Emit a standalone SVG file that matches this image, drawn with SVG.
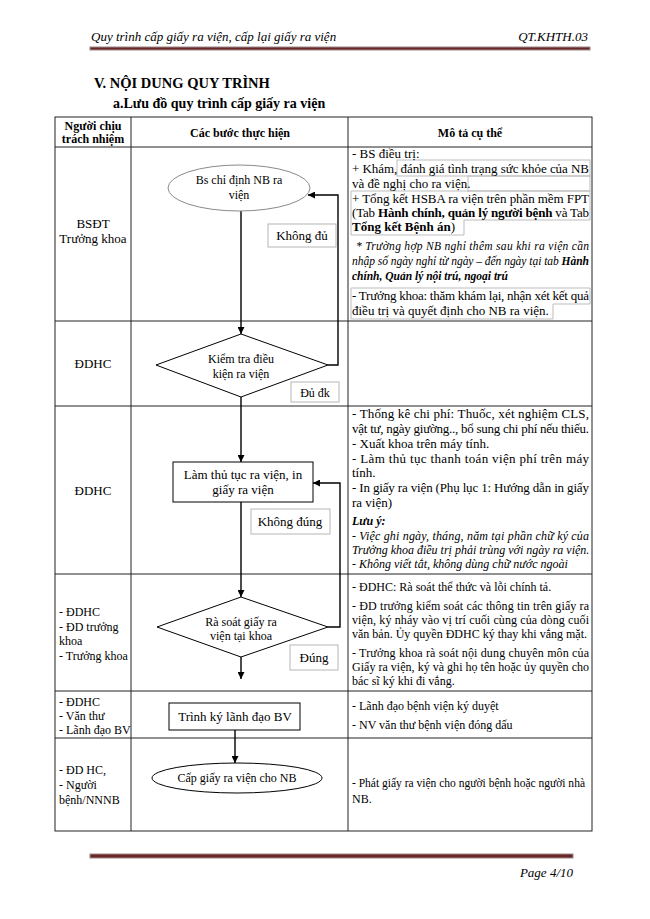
<svg xmlns="http://www.w3.org/2000/svg" width="650" height="919" viewBox="0 0 650 919">
<defs>
<style>
text{font-family:"Liberation Serif","Times New Roman",serif;fill:#000}
.t13{font-size:13px}
.t12{font-size:12px}
.b{font-weight:bold}
.i{font-style:italic}
.c{text-anchor:middle}
.grid{stroke:#222;stroke-width:1;fill:none}
.shape{fill:#fff;stroke:#000;stroke-width:1}
.lbl{fill:#fff;stroke:#b5b5b5;stroke-width:1}
.frame{fill:none;stroke:#bdbdbd;stroke-width:1}
.conn{fill:none;stroke:#000;stroke-width:1.4}
.bar{fill:#6b2525;stroke:#9a8a8a;stroke-width:1}
</style>
<marker id="ah" viewBox="0 0 10 10" refX="10" refY="5" markerWidth="7" markerHeight="7" orient="auto" markerUnits="userSpaceOnUse">
<path d="M0,0 L10,5 L0,10 Z" fill="#000"/>
</marker>
</defs>
<rect width="650" height="919" fill="#fff"/>

<!-- page header -->
<g id="page-header">
<text x="91" y="41" class="t13 i">Quy trình cấp giấy ra viện, cấp lại giấy ra viện</text>
<text x="588" y="41" class="t13 i" text-anchor="end">QT.KHTH.03</text>
<rect x="90" y="47" width="500" height="3" class="bar"/>
</g>

<g id="titles">
<text x="94" y="88" class="b" font-size="14.5">V. NỘI DUNG QUY TRÌNH</text>
<text x="113" y="108" class="b" font-size="14">a.Lưu đồ quy trình cấp giấy ra viện</text>
</g>

<!-- table grid -->
<g id="table" class="grid">
<rect x="55" y="117" width="537" height="714"/>
<line x1="131" y1="117" x2="131" y2="831"/>
<line x1="348" y1="117" x2="348" y2="831"/>
<line x1="55" y1="147" x2="592" y2="147"/>
<line x1="55" y1="321" x2="592" y2="321"/>
<line x1="55" y1="406" x2="592" y2="406"/>
<line x1="55" y1="574" x2="592" y2="574"/>
<line x1="55" y1="691" x2="592" y2="691"/>
<line x1="55" y1="738" x2="592" y2="738"/>
</g>

<g id="table-head">
<text x="93" y="130" class="t12 b c">Người chịu</text>
<text x="93" y="143" class="t12 b c">trách nhiệm</text>
<text x="240" y="137" class="t12 b c">Các bước thực hiện</text>
<text x="470" y="137" class="t12 b c">Mô tả cụ thể</text>
</g>

<!-- responsible column -->
<g id="responsible">
<text x="93" y="228" class="t13 c">BSĐT</text>
<text x="93" y="243" class="t13 c">Trưởng khoa</text>
<text x="93" y="368" class="t13 c">ĐDHC</text>
<text x="93" y="495" class="t13 c">ĐDHC</text>
<text x="59" y="616" class="t12">- ĐDHC</text>
<text x="59" y="631" class="t12">- ĐD trưởng</text>
<text x="59" y="645" class="t12">khoa</text>
<text x="59" y="660" class="t12">- Trưởng khoa</text>
<text x="59" y="706" class="t12">- ĐDHC</text>
<text x="59" y="720" class="t12">- Văn thư</text>
<text x="59" y="734" class="t12">- Lãnh đạo BV</text>
<text x="59" y="774" class="t12">- ĐD HC,</text>
<text x="59" y="789" class="t12">- Người</text>
<text x="59" y="804" class="t12">bệnh/NNNB</text>
</g>

<!-- connectors -->
<g id="connectors">
<path class="conn" d="M241,211 V334" marker-end="url(#ah)"/>
<path class="conn" d="M328,365 H338 V195 H308" marker-end="url(#ah)"/>
<path class="conn" d="M241,397 V462" marker-end="url(#ah)"/>
<path class="conn" d="M328,627 H340 V483 H313" marker-end="url(#ah)"/>
<path class="conn" d="M241,502 V597" marker-end="url(#ah)"/>
<path class="conn" d="M241,657 V679" marker-end="url(#ah)"/>
<path class="conn" d="M235,730 V763" marker-end="url(#ah)"/>
</g>

<!-- nodes -->
<g id="n-start">
<ellipse cx="239" cy="188" rx="71" ry="23" fill="#fff" stroke="#8a8a8a" stroke-width="1"/>
<text x="239" y="184" class="t12 c">Bs chỉ định NB  ra</text>
<text x="239" y="199" class="t12 c">viện</text>
</g>

<g id="n-check">
<polygon class="shape" points="241,334 328,365 241,397 156,365"/>
<text x="241" y="363" class="t12 c">Kiểm tra điều</text>
<text x="241" y="378" class="t12 c">kiện ra viện</text>
</g>

<g id="n-procedure">
<rect class="shape" x="173" y="462" width="140" height="40"/>
<text x="243" y="479" class="t13 c">Làm thủ tục ra viện, in</text>
<text x="243" y="494" class="t13 c">giấy ra viện</text>
</g>

<g id="n-review">
<polygon class="shape" points="241,597 328,627 241,657 157,627"/>
<text x="241" y="626" class="t12 c">Rà soát giấy ra</text>
<text x="241" y="640" class="t12 c">viện tại khoa</text>
</g>

<g id="n-sign">
<rect class="shape" x="169" y="703" width="131" height="27"/>
<text x="235" y="721" class="t13 c">Trình ký lãnh đạo BV</text>
</g>

<g id="n-issue">
<ellipse class="shape" cx="237" cy="778" rx="85" ry="15"/>
<text x="237" y="782" class="t12 c">Cấp giấy ra viện cho NB</text>
</g>

<!-- edge labels -->
<g id="lbl-khongdu">
<rect class="lbl" x="268" y="224" width="68" height="23"/>
<text x="302" y="240" class="t13 c">Không đủ</text>
</g>
<g id="lbl-dudk">
<rect class="lbl" x="291" y="382" width="48" height="20"/>
<text x="315" y="397" class="t12 c">Đủ đk</text>
</g>
<g id="lbl-khongdung">
<rect class="lbl" x="251" y="509" width="79" height="25"/>
<text x="290" y="526" class="t13 c">Không đúng</text>
</g>
<g id="lbl-dung">
<rect class="lbl" x="290" y="645" width="48" height="25"/>
<text x="314" y="662" class="t13 c">Đúng</text>
</g>

<!-- description column -->
<g id="desc-1">
<rect class="frame" x="397" y="160" width="193" height="16"/>
<rect class="frame" x="468" y="176" width="122" height="15"/>
<path class="frame" d="M351,191 H590 V220 H464 V235 H351 Z"/>
<path class="frame" d="M351,288 H590 V304 H553 V319 H351 Z"/>
<text x="352" y="158" class="t13">- BS điều trị:</text>
<text x="352" y="173" class="t13" textLength="237" lengthAdjust="spacing">+ Khám, đánh giá tình trạng sức khỏe của NB</text>
<text x="352" y="188" class="t13">và đề nghị cho ra viện.</text>
<text x="352" y="203" class="t13" textLength="237" lengthAdjust="spacing">+ Tổng kết HSBA ra viện trên phần mềm FPT</text>
<text x="352" y="217" class="t13" textLength="237" lengthAdjust="spacing">(Tab <tspan class="b">Hành chính, quản lý người bệnh</tspan> và Tab</text>
<text x="352" y="231" class="t13"><tspan class="b">Tổng kết Bệnh án</tspan>)</text>
<text x="356" y="250" class="i" font-size="11.5" textLength="233" lengthAdjust="spacing">* Trường hợp NB nghỉ thêm sau khi ra viện cần</text>
<text x="352" y="265" class="i" font-size="11.5" textLength="237" lengthAdjust="spacing">nhập số ngày nghỉ từ ngày – đến ngày tại tab <tspan class="b">Hành</tspan></text>
<text x="352" y="280" class="i b" font-size="11.5">chính, Quản lý nội trú, ngoại trú</text>
<text x="352" y="300" class="t13" textLength="237" lengthAdjust="spacing">- Trưởng khoa: thăm khám lại, nhận xét kết quả</text>
<text x="352" y="315" class="t13">điều trị và quyết định cho NB ra viện.</text>
</g>

<g id="desc-3">
<text x="352" y="418" class="t13" textLength="237" lengthAdjust="spacing">- Thống kê chi phí: Thuốc, xét nghiệm CLS,</text>
<text x="352" y="433" class="t13" textLength="237" lengthAdjust="spacing">vật tư, ngày giường.., bổ sung chi phí nếu thiếu.</text>
<text x="352" y="448" class="t13">- Xuất khoa trên máy tính.</text>
<text x="352" y="463" class="t13" textLength="237" lengthAdjust="spacing">- Làm thủ tục thanh toán viện phí trên máy</text>
<text x="352" y="477" class="t13">tính.</text>
<text x="352" y="492" class="t13" textLength="237" lengthAdjust="spacing">- In giấy ra viện (Phụ lục 1: Hướng dẫn in giấy</text>
<text x="352" y="507" class="t13">ra viện)</text>
<text x="352" y="525" class="t12 b i">Lưu ý:</text>
<text x="352" y="540" class="t12 i" textLength="237" lengthAdjust="spacing">- Việc ghi ngày, tháng, năm tại phần chữ ký của</text>
<text x="352" y="554" class="t12 i">Trưởng khoa điều trị phải trùng với ngày ra viện.</text>
<text x="352" y="568" class="t12 i">- Không viết tắt, không dùng chữ nước ngoài</text>
</g>

<g id="desc-4">
<text x="352" y="591" class="t12">- ĐDHC: Rà soát thể thức và lỗi chính tả.</text>
<text x="352" y="610" class="t12" textLength="237" lengthAdjust="spacing">- ĐD trưởng kiểm soát các thông tin trên giấy ra</text>
<text x="352" y="624" class="t12" textLength="237" lengthAdjust="spacing">viện, ký nháy vào vị trí cuối cùng của dòng cuối</text>
<text x="352" y="638" class="t12">văn bản. Ủy quyền ĐDHC ký thay khi vắng mặt.</text>
<text x="352" y="657" class="t12" textLength="237" lengthAdjust="spacing">- Trưởng khoa rà soát nội dung chuyên môn của</text>
<text x="352" y="671" class="t12" textLength="237" lengthAdjust="spacing">Giấy ra viện, ký và ghi họ tên hoặc ủy quyền cho</text>
<text x="352" y="685" class="t12">bác sĩ ký khi đi vắng.</text>
</g>

<g id="desc-5">
<text x="352" y="710" class="t12">- Lãnh đạo bệnh viện ký duyệt</text>
<text x="352" y="729" class="t12">- NV văn thư bệnh viện đóng dấu</text>
</g>

<g id="desc-6">
<text x="352" y="787" class="t12" textLength="233" lengthAdjust="spacingAndGlyphs">- Phát giấy ra viện cho người bệnh hoặc người nhà</text>
<text x="352" y="803" class="t12">NB.</text>
</g>

<!-- page footer -->
<g id="page-footer">
<rect x="90" y="854" width="483" height="4" class="bar"/>
<text x="573" y="877" class="t13 i" text-anchor="end">Page 4/10</text>
</g>
</svg>
